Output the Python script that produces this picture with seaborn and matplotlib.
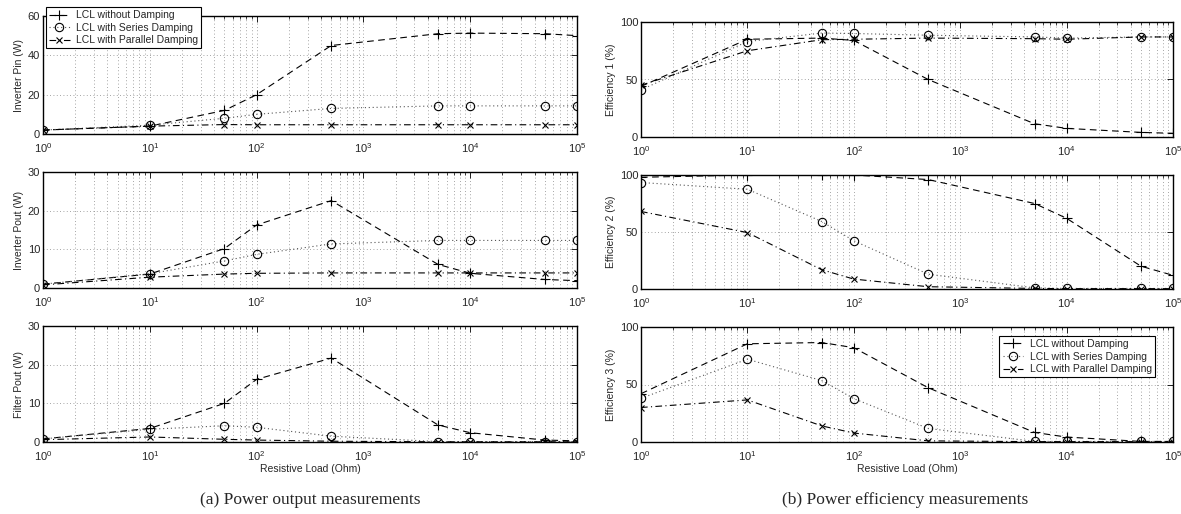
import numpy as np
import pandas as pd
import matplotlib
matplotlib.use("Agg")
import matplotlib.pyplot as plt
import seaborn as sns
from matplotlib.ticker import LogLocator, NullFormatter

# ---------------- data ----------------
loads = [1, 10, 50, 100, 500, 5000, 10000, 50000, 100000]
series_names = ["LCL without Damping", "LCL with Series Damping", "LCL with Parallel Damping"]

pin_none = [2, 4, 12, 20, 45, 51, 51.3, 51, 50]
pin_series = [2, 4.5, 8, 10, 13, 14.3, 14.3, 14.3, 14.3]
pin_parallel = [2, 4, 4.8, 4.7, 4.7, 4.7, 4.7, 4.7, 4.7]

pout_none = [1, 3.6, 10.2, 16.3, 22.6, 6.1, 3.8, 2.2, 1.9]
pout_series = [1, 3.7, 7, 8.7, 11.4, 12.3, 12.3, 12.3, 12.3]
pout_parallel = [0.8, 2.8, 3.6, 3.8, 3.9, 3.9, 3.9, 3.9, 3.9]

fpout_none = [0.8, 3.5, 10, 16.2, 21.7, 4.4, 2.4, 0.5, 0.3]
fpout_series = [0.8, 3.3, 4.2, 3.8, 1.5, 0.1, 0.1, 0.1, 0.1]
fpout_parallel = [0.6, 1.3, 0.7, 0.5, 0.2, 0.05, 0.05, 0.05, 0.05]

eff1_none = [44, 85, 86, 84, 50, 11.5, 7.5, 4, 3.2]
eff1_series = [41, 83, 90.4, 90, 88.5, 87, 86, 87, 87]
eff1_parallel = [45, 75, 84.6, 85, 86, 85.5, 85, 87, 87]

eff2_none = [98, 100, 100, 100, 96, 75, 62, 20, 12]
eff2_series = [93.4, 87.5, 59.2, 42.3, 13, 1, 0.5, 0.5, 0.5]
eff2_parallel = [68, 49.5, 16.9, 8.7, 2, 0.5, 0.3, 0.3, 0.3]

eff3_none = [42, 85.4, 86.5, 82, 47.2, 8.3, 4.3, 0.5, 0.5]
eff3_series = [38, 72, 53.4, 37.7, 11.8, 0.5, 0.5, 0.5, 0.5]
eff3_parallel = [30, 36.6, 14, 7.8, 1, 0.3, 0.3, 0.3, 0.3]

ylabels_left = ["Inverter Pin (W)", "Inverter Pout (W)", "Filter Pout (W)"]
ylabels_right = ["Efficiency 1 (%)", "Efficiency 2 (%)", "Efficiency 3 (%)"]
xlabel = "Resistive Load (Ohm)"
captions = ["(a) Power output measurements", "(b) Power efficiency measurements"]

# ---------------- style ----------------
sns.set_theme(style="white")
plt.rcParams["font.family"] = ["Liberation Sans", "DejaVu Sans"]
plt.rcParams["mathtext.fontset"] = "custom"
plt.rcParams["mathtext.rm"] = "Liberation Sans"
plt.rcParams["mathtext.it"] = "Liberation Sans:italic"

W, H = 1181, 514
fig = plt.figure(figsize=(W / 100, H / 100), dpi=100)

def fx(px):
    return px / W

def ax_rect(x0, x1, ytop, ybot):
    return [fx(x0), 1 - ybot / H, fx(x1 - x0), (ybot - ytop) / H]

left_rows = [(16, 134), (172, 288), (326, 442)]
right_rows = [(22, 137), (175, 289), (327, 442)]

styles = [
    dict(marker="+", linestyle=(0, (6, 4)), markersize=7, color="black",
         markeredgecolor="black", markeredgewidth=0.8),
    dict(marker="o", linestyle=(0, (1, 2.5)), markersize=6, color="#555555",
         markerfacecolor="none", markeredgecolor="black", markeredgewidth=0.8),
    dict(marker="x", linestyle=(0, (6, 3, 1, 3)), markersize=4, color="black",
         markeredgecolor="black", markeredgewidth=0.8),
]

panels_left = [
    (pin_none, pin_series, pin_parallel, (0, 60), [0, 20, 40, 60]),
    (pout_none, pout_series, pout_parallel, (0, 30), [0, 10, 20, 30]),
    (fpout_none, fpout_series, fpout_parallel, (0, 30), [0, 10, 20, 30]),
]
panels_right = [
    (eff1_none, eff1_series, eff1_parallel, (0, 100), [0, 50, 100]),
    (eff2_none, eff2_series, eff2_parallel, (0, 100), [0, 50, 100]),
    (eff3_none, eff3_series, eff3_parallel, (0, 100), [0, 50, 100]),
]

axes = []
for col, (rows, panels, ylabels, (x0, x1)) in enumerate([
        (left_rows, panels_left, ylabels_left, (43, 577)),
        (right_rows, panels_right, ylabels_right, (641, 1173))]):
    for r, ((yt, yb), pdata, ylab) in enumerate(zip(rows, panels, ylabels)):
        ax = fig.add_axes(ax_rect(x0, x1, yt, yb))
        axes.append(ax)
        for name, vals, st in zip(series_names, pdata[:3], styles):
            df = pd.DataFrame({"x": loads, "y": vals})
            sns.lineplot(data=df, x="x", y="y", ax=ax, label=name, sort=False,
                         linewidth=0.8, **st)
        ax.set_xscale("log")
        ax.set_xlim(1, 1e5)
        ax.set_ylim(*pdata[3])
        ax.set_yticks(pdata[4])
        ax.xaxis.set_major_locator(LogLocator(base=10, numticks=10))
        ax.xaxis.set_minor_locator(LogLocator(base=10, subs=np.arange(2, 10), numticks=20))
        ax.xaxis.set_minor_formatter(NullFormatter())
        ax.grid(True, which="major", axis="both", linestyle=(0, (1, 3)), color="#888888", linewidth=0.6)
        ax.grid(True, which="minor", axis="x", linestyle=(0, (1, 3)), color="#888888", linewidth=0.6)
        ax.tick_params(which="both", direction="in", top=True, right=True, labelsize=8,
                       color="black")
        ax.tick_params(axis="x", which="major", pad=5)
        ax.tick_params(axis="y", which="major", pad=2)
        ax.tick_params(which="major", length=4, width=0.6)
        ax.tick_params(which="minor", length=2, width=0.5)
        for sp in ax.spines.values():
            sp.set_color("black")
            sp.set_linewidth(1.0)
        ax.set_ylabel(ylab, fontsize=7.5, labelpad=3)
        if r == 2:
            ax.set_xlabel(xlabel, fontsize=7.5, labelpad=1)
        else:
            ax.set_xlabel("")
        if ax.get_legend():
            ax.get_legend().remove()

def add_legend(ax, anchor, loc):
    h, l = ax.get_legend_handles_labels()
    leg = ax.legend(h, l, loc=loc, bbox_to_anchor=anchor, borderaxespad=0, fontsize=7.5,
                    frameon=True, fancybox=False, framealpha=1, edgecolor="black",
                    handlelength=2.0, labelspacing=0.25, borderpad=0.3, handletextpad=0.6)
    leg.get_frame().set_linewidth(0.8)
    leg.set_zorder(10)

add_legend(axes[0], (0.005, 1.076), "upper left")
add_legend(axes[5], (0.966, 0.922), "upper right")

fig.text(fx(310), 1 - 500 / H, captions[0], ha="center", va="center", fontsize=12.5,
         family=["Liberation Serif", "DejaVu Serif"])
fig.text(fx(905), 1 - 500 / H, captions[1], ha="center", va="center", fontsize=12.5,
         family=["Liberation Serif", "DejaVu Serif"])

fig.savefig("out.png", dpi=100, facecolor="white")
